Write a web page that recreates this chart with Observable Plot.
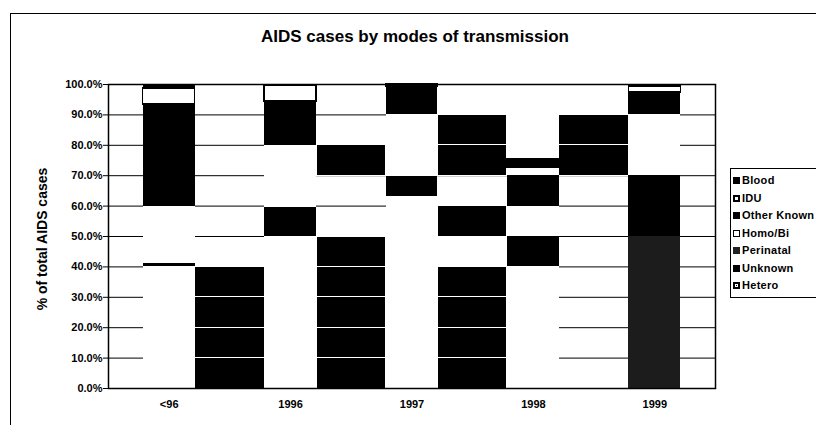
<!DOCTYPE html>
<html>
<head>
<meta charset="utf-8">
<script src="https://cdn.jsdelivr.net/npm/d3@7"></script>
<script src="https://cdn.jsdelivr.net/npm/@observablehq/plot@0.6"></script>
<style>
  html, body { margin: 0; padding: 0; background: #fff; }
  #wrap { position: relative; width: 816px; height: 425px; overflow: hidden; background: #fff;
          font-family: "Liberation Sans", Arial, Helvetica, sans-serif; }
  #chart { position: absolute; left: 0; top: 0; }
  #outer { position: absolute; left: 10px; top: 13px; width: 900px; height: 500px;
           border-left: 1px solid #000; border-top: 1px solid #000; pointer-events: none; }
  #title { position: absolute; left: 215px; width: 400px; top: 28px; text-align: center;
           font-size: 17px; line-height: 17px; font-weight: bold; color: #000; }
  #ytitle { position: absolute; left: -58px; top: 231px; width: 200px; height: 16px; line-height: 16px;
            text-align: center; font-size: 14px; font-weight: bold; transform: rotate(-90deg); }
  #legend { position: absolute; left: 730px; top: 168px; width: 110px; height: 130px;
            border: 1px solid #000; box-sizing: border-box; padding-top: 3px; }
  .item { height: 17.5px; line-height: 17.5px; font-size: 11px; font-weight: bold; white-space: nowrap;
          padding-left: 2px; display: flex; align-items: center; letter-spacing: 0.3px; }
  .sw { width: 7px; height: 7px; box-sizing: border-box; margin-right: 2px; flex: none; position: relative; }
</style>
</head>
<body>
<div id="wrap">
  <div id="chart"></div>
  <div id="outer"></div>
  <div id="title">AIDS cases by modes of transmission</div>
  <div id="ytitle">% of total AIDS cases</div>
  <div id="legend"></div>
</div>
<script>
// ---- data (percent of total AIDS cases), stack order bottom -> top ----
const categories = ["<96", "1996", "1997", "1998", "1999"];
const series = ["Hetero", "Unknown", "Perinatal", "Homo/Bi", "Other Known", "IDU", "Blood"];

const hetero     = [40.0, 50.0, 63.0, 40.0, 50.0];
const unknown    = [ 0.6,  5.0,  4.0, 10.0, 20.0];
const perinatal  = [ 0.4,  4.5,  2.7, 10.0,  0.0];
const homoBi     = [19.0, 20.5, 20.3, 10.0, 20.0];
const otherKnown = [33.4, 14.4,  9.3,  2.7,  7.4];
const idu        = [ 5.3,  5.1,  0.7,  2.6,  1.9];
const blood      = [ 1.3,  0.5,  0.0, 24.7,  0.7];
const values = [hetero, unknown, perinatal, homoBi, otherKnown, idu, blood];

// how each segment came out in the scanned print: light / dark / grain
const toneHetero     = ["light", "light", "light", "light", "grain"];
const toneUnknown    = ["dark", "dark", "dark", "dark", "dark"];
const tonePerinatal  = ["dark", "dark", "dark", "light", "dark"];
const toneHomoBi     = ["light", "light", "light", "dark", "light"];
const toneOtherKnown = ["dark", "dark", "dark", "light", "dark"];
const toneIdu        = ["light", "light", "light", "dark", "light"];
const toneBlood      = ["dark", "dark", "dark", "light", "dark"];
const tones = [toneHetero, toneUnknown, tonePerinatal, toneHomoBi, toneOtherKnown, toneIdu, toneBlood];

// scanned plot-area shading between bars (gap k lies after category k-1), in percent bands
const shadeGap  = [1, 2, 2, 3, 3, 3, 4];
const shadeFrom = [0, 0, 70, 0, 50, 70, 70];
const shadeTo   = [40, 50, 80, 40, 60, 90, 90];

const yTicks = d3.range(0, 101, 10);

// ---- build tables ----
const half = 0.214; // half bar width in category units
const rows = [];
categories.forEach((c, i) => {
  let acc = 0;
  series.forEach((s, j) => {
    const v = values[j][i];
    if (v > 0) rows.push({category: c, series: s, x1: i + 0.5 - half, x2: i + 0.5 + half,
                          y1: acc, y2: acc + v, tone: tones[j][i]});
    acc += v;
  });
});
const shadeCells = [];
shadeGap.forEach((g, k) => {
  for (let y = shadeFrom[k]; y < shadeTo[k]; y += 10) {
    shadeCells.push({x1: g - 0.5 + half, x2: g + 0.5 - half, y1: y, y2: y + 10});
  }
});

const chart = Plot.plot({
  width: 816, height: 425,
  marginTop: 84, marginBottom: 37, marginLeft: 108, marginRight: 101,
  style: {background: "transparent", fontFamily: "'Liberation Sans', Arial, sans-serif",
          fontSize: "11px", fontWeight: "bold", color: "#000"},
  x: {domain: [0, categories.length]},
  y: {domain: [0, 100]},
  color: {domain: ["light", "dark", "grain"], range: ["#ffffff", "#000000", "#1c1c1c"]},
  marks: [
    Plot.ruleY(yTicks.filter(d => d > 0 && d < 100), {stroke: "#000", strokeWidth: 1}),
    Plot.rect(shadeCells, {x1: "x1", x2: "x2", y1: "y1", y2: "y2", fill: "#000", stroke: "#fff",
                           strokeWidth: 1, shapeRendering: "crispEdges"}),
    Plot.rect(rows, {x1: "x1", x2: "x2", y1: "y1", y2: "y2", fill: "tone", shapeRendering: "crispEdges"}),
    Plot.rect(rows.filter(d => d.series === "IDU"), {x1: "x1", x2: "x2", y1: "y1", y2: "y2",
                          fill: "tone", stroke: "#000", strokeWidth: 1.5, shapeRendering: "crispEdges"}),
    Plot.frame({stroke: "#000", strokeWidth: 1.5}),
    Plot.axisY(yTicks, {tickFormat: d => d.toFixed(1) + "%", tickSize: 5, tickPadding: 1,
                        label: null, fontSize: 11, fontWeight: "bold"}),
    Plot.axisX(categories.map((_, i) => i + 0.5), {tickFormat: d => categories[Math.round(d - 0.5)],
                        tickSize: 0, tickPadding: 12, label: null, fontSize: 11, fontWeight: "bold"})
  ]
});
document.getElementById("chart").appendChild(chart);

// ---- legend (top of stack first) ----
const swatchStyle = {
  "Blood": "background:#000;",
  "IDU": "background:#000;",
  "Other Known": "background:#000;",
  "Homo/Bi": "background:#fff;border:1.5px solid #000;",
  "Perinatal": "background:#222;",
  "Unknown": "background:#000;",
  "Hetero": "background:#000;border:2px solid #000;box-shadow: inset 0 0 0 1px #fff;"
};
const legend = document.getElementById("legend");
series.slice().reverse().forEach(s => {
  const it = document.createElement("div");
  it.className = "item";
  const sw = document.createElement("span");
  sw.className = "sw";
  sw.setAttribute("style", swatchStyle[s]);
  if (s === "IDU") {
    const dot = document.createElement("span");
    dot.setAttribute("style", "position:absolute;left:2px;top:2px;width:3px;height:3px;background:#fff;");
    sw.appendChild(dot);
  }
  it.appendChild(sw);
  const t = document.createElement("span");
  t.textContent = s;
  it.appendChild(t);
  legend.appendChild(it);
});
</script>
</body>
</html>
